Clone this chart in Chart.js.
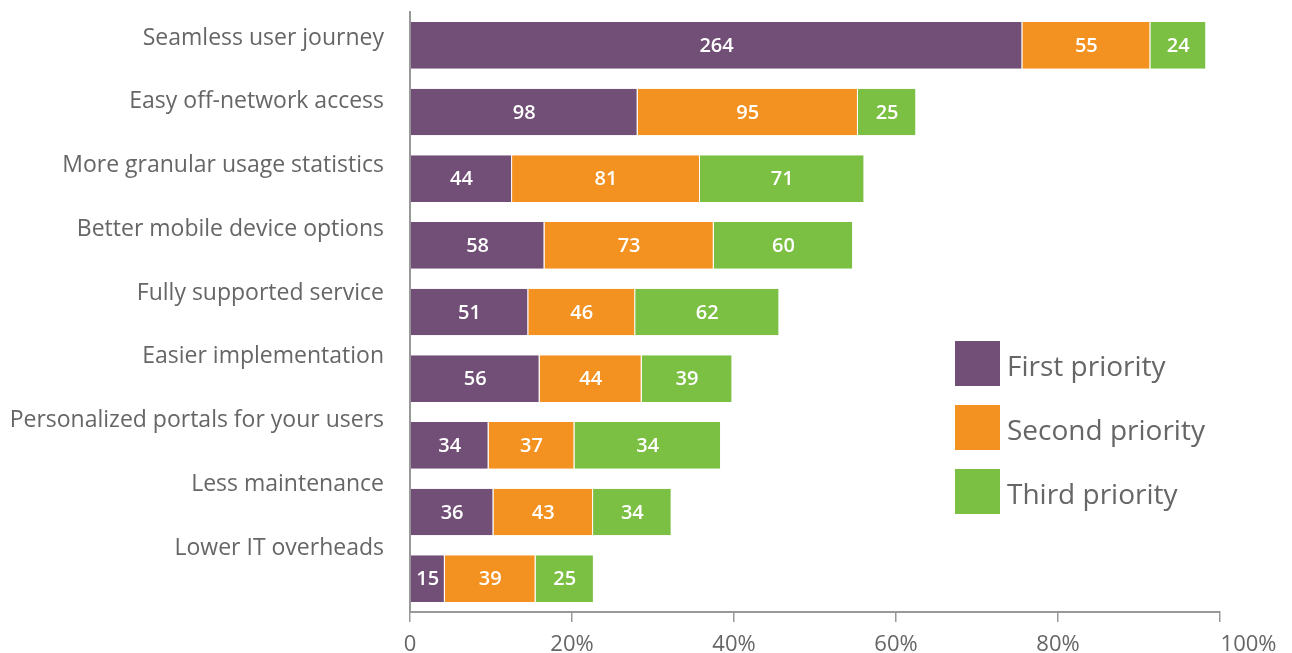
<!DOCTYPE html>
<html>
<head>
<meta charset="utf-8">
<script src="https://cdn.jsdelivr.net/npm/chart.js@4.4.1/dist/chart.umd.min.js"></script>
<style>
  html, body { margin: 0; padding: 0; background: #fff; }
  #wrap { width: 1292px; height: 653px; position: relative; }
</style>
</head>
<body>
<div id="wrap"><canvas id="chart"></canvas></div>
<script>
const categories = [
  'Seamless user journey',
  'Easy off-network access',
  'More granular usage statistics',
  'Better mobile device options',
  'Fully supported service',
  'Easier implementation',
  'Personalized portals for your users',
  'Less maintenance',
  'Lower IT overheads'
];
const seriesNames = ['First priority', 'Second priority', 'Third priority'];

// counts printed on the bars
const firstCounts = [264, 98, 44, 58, 51, 56, 34, 36, 15];
const secondCounts = [55, 95, 81, 73, 46, 44, 37, 43, 39];
const thirdCounts = [24, 25, 71, 60, 62, 39, 34, 34, 25];

// bar lengths (% of respondents) as drawn
const firstShare = [75.6, 28.1, 12.6, 16.6, 14.6, 16.0, 9.7, 10.3, 4.3];
const secondShare = [15.8, 27.2, 23.2, 20.9, 13.2, 12.6, 10.6, 12.3, 11.2];
const thirdShare = [6.9, 7.2, 20.3, 17.2, 17.8, 11.2, 18.1, 9.7, 7.2];

const xTickValues = [0, 20, 40, 60, 80, 100];

const colors = ['#724f77', '#f39121', '#7bc043'];
const textGray = '#666666';
const axisGray = '#999999';

const counts = [firstCounts, secondCounts, thirdCounts];
const shares = [firstShare, secondShare, thirdShare];

const barLabels = {
  id: 'barLabels',
  afterDatasetsDraw(chart) {
    const ctx = chart.ctx;
    ctx.save();
    ctx.fillStyle = '#ffffff';
    ctx.font = '600 20px "Open Sans"';
    ctx.textAlign = 'center';
    ctx.textBaseline = 'middle';
    chart.data.datasets.forEach((ds, di) => {
      chart.getDatasetMeta(di).data.forEach((bar, i) => {
        const cx = (bar.x + bar.base) / 2;
        ctx.fillText(String(counts[di][i]), cx, bar.y + 1);
      });
    });
    ctx.restore();
  }
};

const insideLegend = {
  id: 'insideLegend',
  afterDraw(chart) {
    const ctx = chart.ctx;
    ctx.save();
    ctx.font = '28px "Open Sans"';
    ctx.textBaseline = 'middle';
    ctx.textAlign = 'left';
    seriesNames.forEach((name, i) => {
      const y = 341 + i * 64;
      ctx.fillStyle = colors[i];
      ctx.fillRect(955, y, 45, 45);
      ctx.fillStyle = textGray;
      ctx.fillText(name, 1007, y + 27);
    });
    ctx.restore();
  }
};

new Chart(document.getElementById('chart'), {
  type: 'bar',
  data: {
    labels: categories,
    datasets: seriesNames.map((name, i) => ({
      label: name,
      data: shares[i],
      backgroundColor: colors[i],
      borderColor: '#ffffff',
      borderWidth: { right: 1, left: 0, top: 0, bottom: 0 },
      borderSkipped: 'start',
      barPercentage: 0.7,
      categoryPercentage: 1
    }))
  },
  options: {
    indexAxis: 'y',
    responsive: true,
    maintainAspectRatio: false,
    animation: false,
    layout: { padding: { left: 10, right: 72, top: 12, bottom: 0 } },
    plugins: {
      legend: { display: false },
      tooltip: { enabled: false }
    },
    scales: {
      x: {
        stacked: true,
        min: 0,
        max: 100,
        afterBuildTicks: (scale) => {
          scale.ticks = xTickValues.map(v => ({ value: v }));
        },
        afterFit: (scale) => {
          scale.height = 41;
          scale.paddingLeft = 0;
          scale.paddingRight = 0;
        },
        grid: {
          drawOnChartArea: false,
          drawTicks: true,
          tickLength: 10,
          color: axisGray,
          lineWidth: 1.5
        },
        border: { display: true, color: axisGray, width: 2 },
        ticks: {
          padding: 10,
          color: textGray,
          font: { family: 'Open Sans', size: 22 },
          maxRotation: 0,
          // last label sits to the right of its tick, as in the original
          callback: (v) => v === 0 ? '0' : (v === 100 ? '          100%' : v + '%')
        }
      },
      // category axis that places the bars
      y: {
        stacked: true,
        display: false
      },
      // label axis: in the original the category names are spaced a bit
      // tighter than the bars, so they sit on their own scale
      yNames: {
        type: 'linear',
        position: 'left',
        reverse: true,
        offset: false,
        bounds: 'data',
        min: -0.41,
        max: 9.0,
        afterBuildTicks: (scale) => {
          scale.ticks = categories.map((c, i) => ({ value: i }));
        },
        afterFit: (scale) => {
          scale.width = 400;
          scale.paddingTop = 0;
          scale.paddingBottom = 0;
        },
        grid: { display: false, drawTicks: false, offset: false },
        border: { display: true, color: axisGray, width: 2 },
        ticks: {
          padding: 26,
          color: textGray,
          font: { family: 'Open Sans', size: 23 },
          callback: (v) => categories[v] || ''
        }
      }
    }
  },
  plugins: [barLabels, insideLegend]
});
</script>
</body>
</html>
